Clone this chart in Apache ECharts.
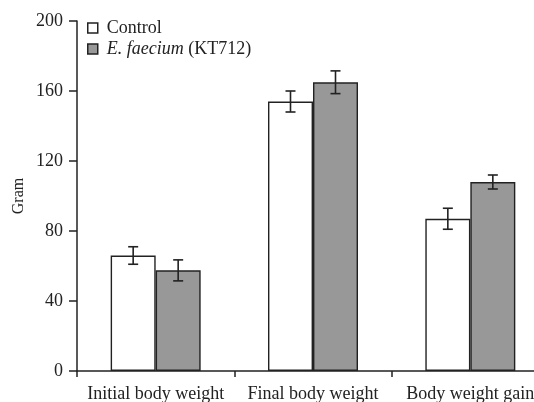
<!DOCTYPE html>
<html><head><meta charset="utf-8">
<script src="https://cdn.jsdelivr.net/npm/echarts@6/dist/echarts.min.js"></script>
<style>html,body{margin:0;padding:0;background:#fff}#c{width:534px;height:402px}</style>
</head><body><div id="c"></div>
<script>
const categories = ['Initial body weight', 'Final body weight', 'Body weight gain'];
const controlMean = [66, 154, 87];
const controlErr = [5, 6, 6];
const treatedMean = [57.5, 165, 108];
const treatedErr = [6, 6.5, 4];
const yTicks = [0, 40, 80, 120, 160, 200];
const yTitle = 'Gram';

const chart = echarts.init(document.getElementById('c'));
const font = 'Liberation Serif';
const BAR_FRAC = 0.286;

function errSeries(means, errs, side) {
  return {
    type: 'custom',
    silent: true,
    z: 10,
    data: means.map((m, i) => [i, m, errs[i]]),
    renderItem: function (params, api) {
      const i = api.value(0), m = api.value(1), e = api.value(2);
      const band = api.size([1, 0])[0];
      const bw = band * BAR_FRAC;
      const c = api.coord([i, m]);
      const x = c[0] + side * bw / 2;
      const top = api.coord([i, m + e])[1];
      const bot = api.coord([i, m - e])[1];
      const cap = 5;
      const st = { stroke: '#222', lineWidth: 1.6 };
      return { type: 'group', children: [
        { type: 'line', shape: { x1: x, y1: top, x2: x, y2: bot }, style: st },
        { type: 'line', shape: { x1: x - cap, y1: top, x2: x + cap, y2: top }, style: st },
        { type: 'line', shape: { x1: x - cap, y1: bot, x2: x + cap, y2: bot }, style: st }
      ]};
    }
  };
}

chart.setOption({
  animation: false,
  textStyle: { fontFamily: font },
  grid: { left: 77, top: 21, width: 472, height: 350, outerBoundsMode: 'none', containLabel: false },
  graphic: [{
    type: 'text', x: 19, y: 196, rotation: Math.PI / 2,
    style: { text: yTitle, fontFamily: font, fontSize: 16, fill: '#222', align: 'center', verticalAlign: 'middle' }
  }],
  legend: {
    orient: 'vertical', left: 82, top: 14, itemWidth: 10, itemHeight: 10, itemGap: 3,
    icon: 'rect',
    textStyle: { fontFamily: font, fontSize: 18, color: '#222', padding: [0, 0, 0, 4],
      rich: { i: { fontFamily: font, fontSize: 18, fontStyle: 'italic', color: '#222' } } },
    itemStyle: { borderWidth: 1.5, borderColor: '#222' },
    data: ['Control', 'E. faecium (KT712)'],
    formatter: function (n) { return n === 'Control' ? 'Control' : '{i|E. faecium} (KT712)'; }
  },
  xAxis: {
    type: 'category', data: categories,
    axisLine: { lineStyle: { color: '#222', width: 1.5 } },
    axisTick: { show: true, length: 6, lineStyle: { color: '#222', width: 1.5 } },
    axisLabel: { fontFamily: font, fontSize: 18, color: '#222', margin: 14, interval: 0 }
  },
  yAxis: {
    type: 'value', min: 0, max: 200, interval: 40,
    axisLine: { show: true, lineStyle: { color: '#222', width: 1.5 } },
    axisTick: { show: true, length: 8, lineStyle: { color: '#222', width: 1.5 } },
    axisLabel: { fontFamily: font, fontSize: 18, color: '#222', margin: 14,
      formatter: v => yTicks.includes(v) ? String(v) : '' },
    splitLine: { show: false }
  },
  series: [
    { name: 'Control', type: 'bar', data: controlMean, barWidth: (BAR_FRAC * 100) + '%', barGap: '0%',
      itemStyle: { color: '#ffffff', borderColor: '#222', borderWidth: 1.4 } },
    { name: 'E. faecium (KT712)', type: 'bar', data: treatedMean, barWidth: (BAR_FRAC * 100) + '%', barGap: '0%',
      itemStyle: { color: '#989898', borderColor: '#222', borderWidth: 1.4 } },
    errSeries(controlMean, controlErr, -1),
    errSeries(treatedMean, treatedErr, 1)
  ]
});
</script></body></html>
